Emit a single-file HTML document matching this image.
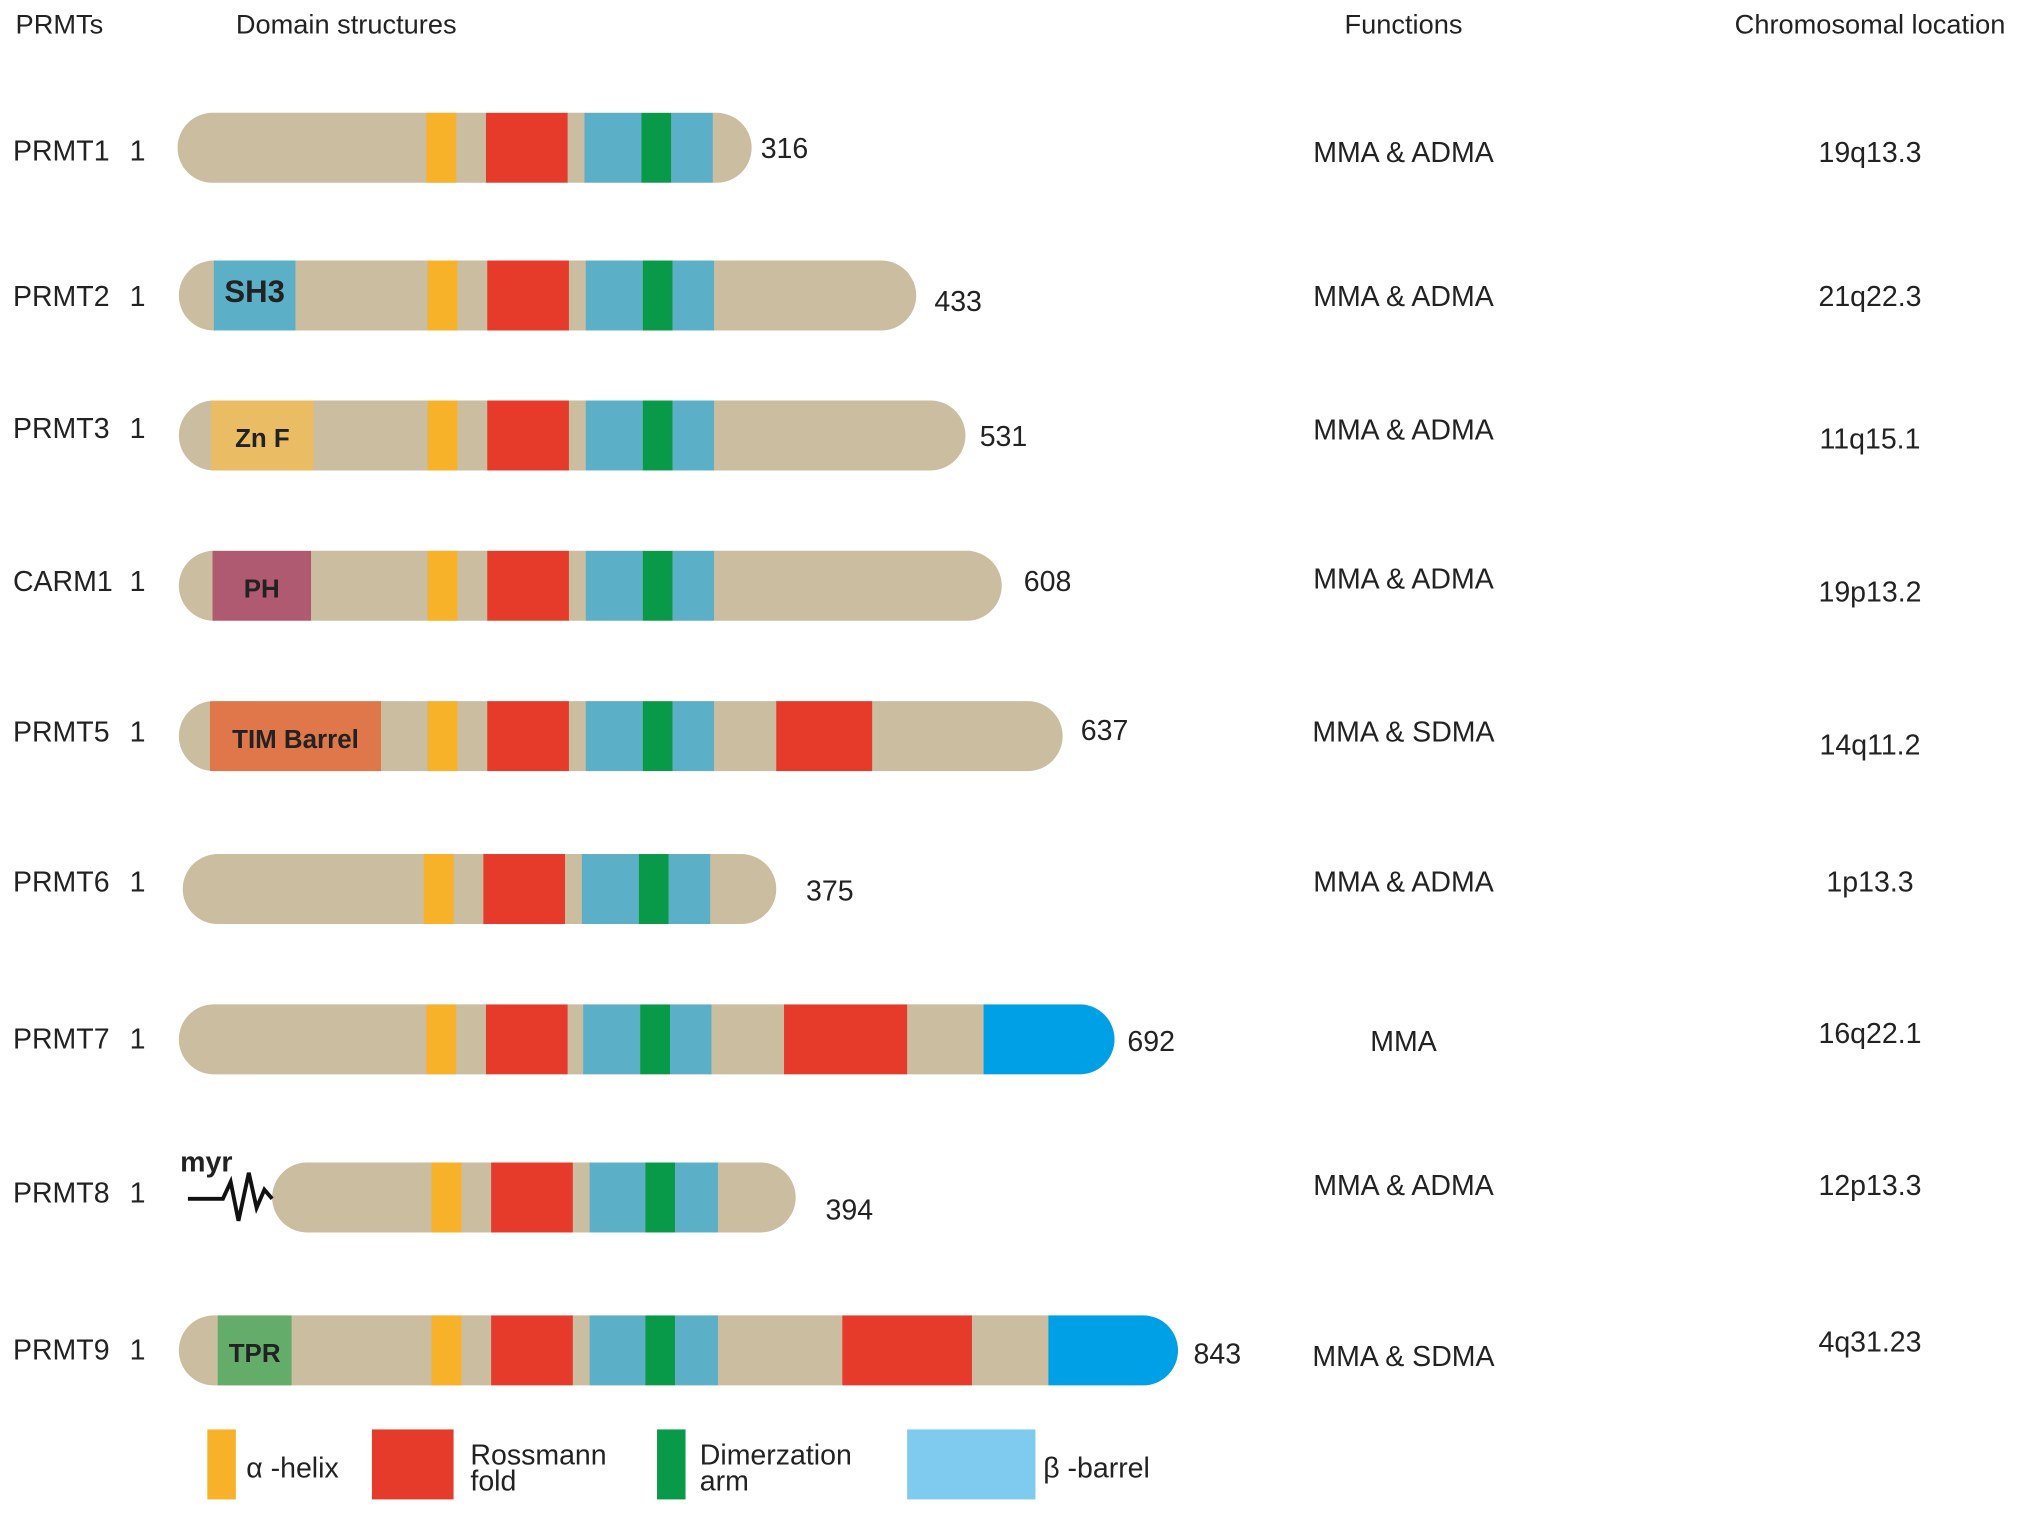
<!DOCTYPE html>
<html><head><meta charset="utf-8">
<style>
html,body{margin:0;padding:0;background:#fff;}
svg{display:block;}
text{font-family:"Liberation Sans",sans-serif;fill:#222;}
</style></head>
<body>
<svg id="fig" width="2032" height="1515" viewBox="0 0 1568 1169" xmlns="http://www.w3.org/2000/svg">
<g font-size="21">
<text x="12" y="26">PRMTs</text>
<text x="182" y="26">Domain structures</text>
<text x="1083" y="26" text-anchor="middle">Functions</text>
<text x="1443" y="26" text-anchor="middle">Chromosomal location</text>
</g>
<g id="rows"></g>
<g>
<rect x="160" y="1103" width="22" height="54" fill="#f7b22a"/>
<text x="190" y="1140" font-size="22">α -helix</text>
<rect x="287" y="1103" width="63" height="54" fill="#e63b2a"/>
<text x="363" y="1130" font-size="22">Rossmann</text>
<text x="363" y="1150" font-size="22">fold</text>
<rect x="507" y="1103" width="22" height="54" fill="#089a48"/>
<text x="540" y="1130" font-size="22">Dimerzation</text>
<text x="540" y="1150" font-size="22">arm</text>
<rect x="700" y="1103" width="99" height="54" fill="#7ecbef"/>
<text x="805" y="1140" font-size="22">β -barrel</text>
</g>
</svg>
<script>
const names = ["PRMT1","PRMT2","PRMT3","CARM1","PRMT5","PRMT6","PRMT7","PRMT8","PRMT9"];
const lengths = [316,433,531,608,637,375,692,394,843];
const functionsCol = ["MMA & ADMA","MMA & ADMA","MMA & ADMA","MMA & ADMA","MMA & SDMA","MMA & ADMA","MMA","MMA & ADMA","MMA & SDMA"];
const locations = ["19q13.3","21q22.3","11q15.1","19p13.2","14q11.2","1p13.3","16q22.1","12p13.3","4q31.23"];
// bar extents in figure units
const barStart = [137,138,138,138,138,141,138,210,138];
const barEnd = [580,707,745,773,820,599,860,614,909];
// core domains: [yellowStart, redStart, redEnd, blueStart, greenStart, greenEnd, blueEnd]
const coreDomains = [
 [329,375,438,451,495,518,550],[330,376,439,452,496,519,551],[330,376,439,452,496,519,551],
 [330,376,439,452,496,519,551],[330,376,439,452,496,519,551],[327,373,436,449,493,516,548],
 [329,375,438,450,494,517,549],[333,379,442,455,498,521,554],[333,379,442,455,498,521,554]];
// N-terminal labelled domain: [start,end,label,color]
const nDomains = [null,[165,228,"SH3","#5bb0c8"],[163,242,"Zn F","#eabd64"],[164,240,"PH","#b05a72"],
 [162,294,"TIM Barrel","#e0774a"],null,null,null,[168,225,"TPR","#64ac6a"]];
const extraRed = [null,null,null,null,[599,673],null,[605,700],null,[650,750]];
const extraBlue = [null,null,null,null,null,null,[759,860],null,[809,909]];
const rowTop = [87,201,309,425,541,659,775,897,1015];
const labelY = [124,236,338,456,572,688,809,928,1049];
const numPos = [[587,122],[721,240],[756,344],[790,456],[834,571],[622,695],[870,811],[637,941],[921,1052]];
const funcY = [125,236,339,454,572,688,811,922,1054];
const locY = [125,236,346,464,582,688,805,922,1043];

const NS="http://www.w3.org/2000/svg";
const rows=document.getElementById('rows');
const H=54, R=27;
function mk(tag,attrs,parent){const e=document.createElementNS(NS,tag);for(const k in attrs)e.setAttribute(k,attrs[k]);parent.appendChild(e);return e;}
names.forEach((nm,i)=>{
 const g=mk('g',{},rows);
 
 
 const y=rowTop[i], x0=barStart[i], x1=barEnd[i];
 const cid='clip'+i;
 const cp=mk('clipPath',{id:cid},g);
 mk('rect',{x:x0,y:y,width:x1-x0,height:H,rx:R,ry:R},cp);
 const bg=mk('rect',{x:x0,y:y,width:x1-x0,height:H,rx:R,ry:R,fill:'#cbbd9f'},g);
 
 
 const dg=mk('g',{'clip-path':'url(#'+cid+')'},g);
 const seg=(a,b,c,n)=>{const r=mk('rect',{x:a,y:y,width:b-a,height:H,fill:c},dg);
  
  };
 const d=coreDomains[i];
 seg(d[0],d[0]+23,'#f7b22a','alpha-helix');
 seg(d[1],d[2],'#e63b2a','rossmann-fold');
 seg(d[3],d[4],'#5bb0c8','beta-barrel-a');
 seg(d[4],d[5],'#089a48','dimerization-arm');
 seg(d[5],d[6],'#5bb0c8','beta-barrel-b');
 if(extraRed[i]) seg(extraRed[i][0],extraRed[i][1],'#e63b2a','rossmann-insert');
 if(extraBlue[i]) seg(extraBlue[i][0],extraBlue[i][1],'#00a0e6','c-terminal-domain');
 if(nDomains[i]){const n=nDomains[i];seg(n[0],n[1],n[3],'n-terminal-domain');
  const t=mk('text',{x:(n[0]+n[1])/2,y:y+(n[2]==="SH3"?32:36),'text-anchor':'middle','font-size':n[2]==="SH3"?24:20,'font-weight':'bold',fill:'#222'},g);
  t.textContent=n[2];
  
  }
 const lb=mk('text',{x:10,y:labelY[i],'font-size':22},g);lb.textContent=nm;
 
 
 const one=mk('text',{x:100,y:labelY[i],'font-size':22},g);one.textContent="1";
 
 
 const nt=mk('text',{x:numPos[i][0],y:numPos[i][1],'font-size':22},g);nt.textContent=lengths[i];
 
 
 const ft=mk('text',{x:1083,y:funcY[i],'font-size':22,'text-anchor':'middle'},g);ft.textContent=functionsCol[i];
 
 
 const lt=mk('text',{x:1443,y:locY[i],'font-size':22,'text-anchor':'middle'},g);lt.textContent=locations[i];
 
 
 if(nm==="PRMT8"){
  const m=mk('text',{x:139,y:904,'font-size':22,'font-weight':'bold'},g);m.textContent="myr";
  
  
  const p=mk('polyline',{points:"145,925 172,925 178,912 184,942 192,905 198,932 204,918 210,925",fill:'none',stroke:'#111','stroke-width':3},g);
  
  
 }
});
</script>
</body></html>
